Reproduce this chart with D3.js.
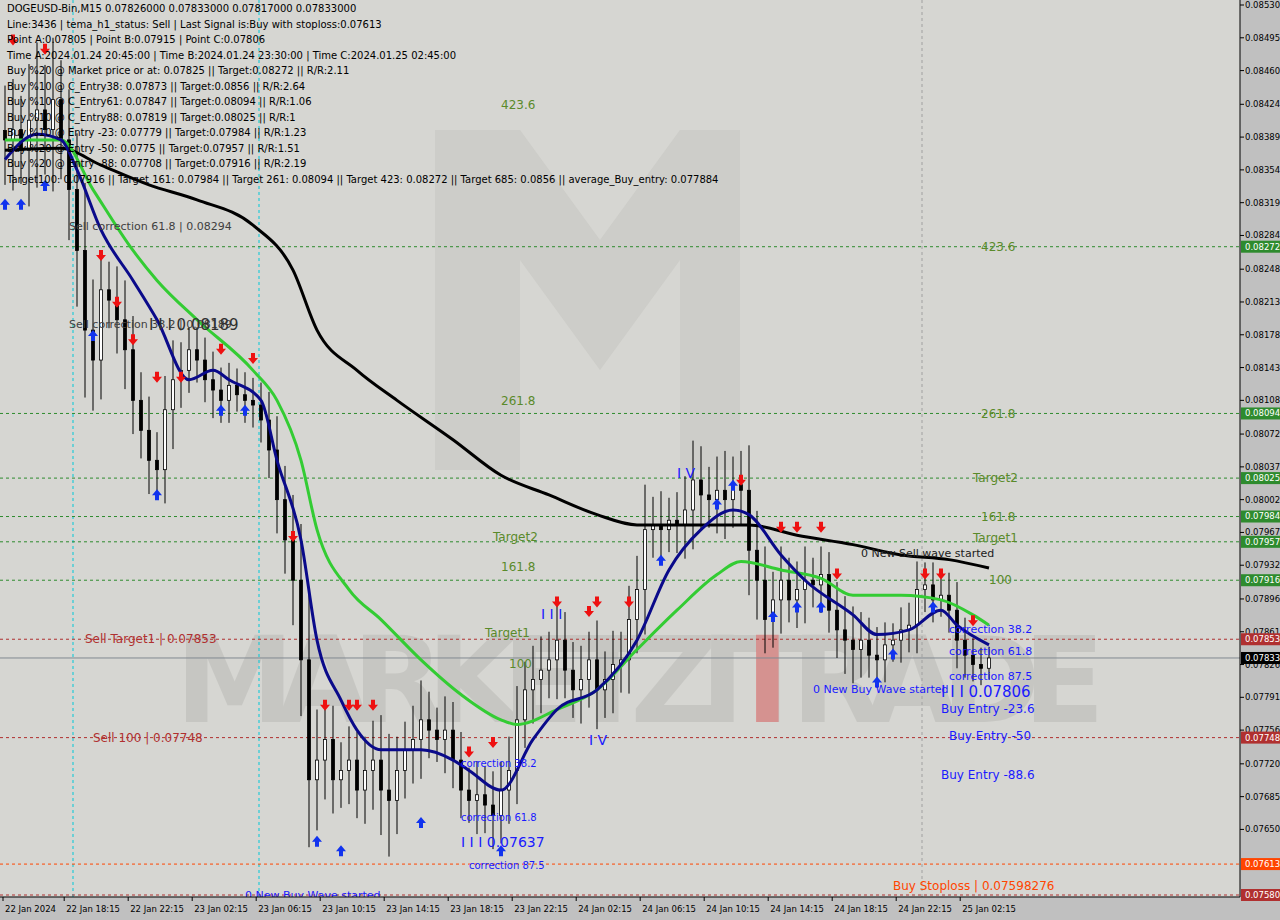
<!DOCTYPE html><html><head><meta charset="utf-8">
<script src="https://cdn.jsdelivr.net/npm/d3@7"></script>
<style>body{margin:0;background:#c0c0c0}svg{display:block;font-family:Tahoma,"DejaVu Sans",sans-serif}</style></head><body>
<svg id="c" width="1280" height="920"></svg>
<script>
const closes=[0.08386,0.08397,0.08375,0.08407,0.08418,0.08397,0.08429,0.08386,0.08333,0.08268,0.08183,0.08151,0.08226,0.08215,0.08194,0.08162,0.08108,0.08076,0.08044,0.08034,0.08098,0.08130,0.08140,0.08162,0.08151,0.08130,0.08119,0.08108,0.08124,0.08114,0.08108,0.08103,0.08087,0.08055,0.08002,0.07959,0.07916,0.07831,0.07703,0.07724,0.07746,0.07703,0.07713,0.07724,0.07692,0.07713,0.07724,0.07692,0.07681,0.07713,0.07735,0.07746,0.07767,0.07756,0.07746,0.07756,0.07724,0.07692,0.07681,0.07687,0.07676,0.07665,0.07692,0.07713,0.07767,0.07799,0.07810,0.07820,0.07831,0.07852,0.07820,0.07799,0.07810,0.07831,0.07799,0.07810,0.07826,0.07831,0.07874,0.07906,0.07970,0.07975,0.07970,0.07980,0.07975,0.07991,0.08023,0.08007,0.08002,0.08012,0.08002,0.08018,0.08012,0.07948,0.07916,0.07874,0.07895,0.07916,0.07895,0.07906,0.07916,0.07911,0.07922,0.07884,0.07863,0.07852,0.07842,0.07852,0.07836,0.07831,0.07847,0.07852,0.07863,0.07868,0.07906,0.07911,0.07895,0.07900,0.07884,0.07852,0.07836,0.07826,0.07822,0.07833];
const wicks=[0.0008,0.0009,0.0006,0.0010,0.0012,0.0008,0.0011,0.0007,0.0009,0.0010,0.0012,0.0009,0.0007,0.0005,0.0006,0.0007,0.0006,0.0005,0.0006,0.0005,0.0006,0.0007,0.0005,0.0004,0.0004,0.0004,0.0005,0.0004,0.0004,0.0003,0.0004,0.0004,0.0004,0.0005,0.0006,0.0006,0.0008,0.0010,0.0012,0.0009,0.0007,0.0006,0.0005,0.0006,0.0005,0.0006,0.0007,0.0008,0.0010,0.0006,0.0005,0.0006,0.0007,0.0005,0.0004,0.0006,0.0005,0.0005,0.0004,0.0006,0.0005,0.0006,0.0005,0.0006,0.0006,0.0005,0.0006,0.0006,0.0005,0.0007,0.0005,0.0005,0.0006,0.0005,0.0007,0.0005,0.0006,0.0005,0.0006,0.0006,0.0008,0.0005,0.0006,0.0004,0.0005,0.0006,0.0007,0.0006,0.0005,0.0006,0.0007,0.0005,0.0006,0.0008,0.0007,0.0006,0.0005,0.0006,0.0004,0.0005,0.0006,0.0004,0.0005,0.0004,0.0005,0.0006,0.0006,0.0005,0.0004,0.0005,0.0004,0.0003,0.0004,0.0004,0.0005,0.0004,0.0004,0.0003,0.0004,0.0005,0.0004,0.0003,0.0003,0.0002];
const maBlack=[[0,0.08375],[7,0.08377],[12,0.08359],[18,0.08338],[24,0.08322],[31,0.08295],[36,0.08247],[39,0.08183],[44,0.08140],[49,0.08108],[56,0.08066],[62,0.08028],[68,0.08007],[74,0.07986],[79,0.07975],[87,0.07975],[93,0.07975],[99,0.07964],[106,0.07954],[112,0.07943],[118,0.07938],[123,0.07929]];
const maGreen=[[0,0.08386],[7,0.08386],[11,0.08333],[16,0.08268],[19,0.08236],[24,0.08194],[31,0.08140],[34,0.08108],[37,0.08044],[39,0.07970],[43,0.07906],[47,0.07874],[52,0.07831],[57,0.07794],[62,0.07767],[64,0.07762],[69,0.07778],[74,0.07799],[79,0.07842],[84,0.07884],[89,0.07922],[92,0.07936],[97,0.07927],[102,0.07918],[106,0.07900],[112,0.07900],[117,0.07895],[121,0.07879],[123,0.07868]];
const maBlue=[[0,0.08365],[4,0.08392],[7,0.08386],[9,0.08354],[12,0.08290],[16,0.08236],[19,0.08194],[23,0.08130],[26,0.08140],[28,0.08130],[32,0.08108],[34,0.08044],[37,0.07959],[39,0.07852],[42,0.07788],[44,0.07756],[47,0.07735],[52,0.07735],[56,0.07724],[58,0.07713],[62,0.07692],[66,0.07746],[69,0.07778],[74,0.07799],[79,0.07852],[83,0.07927],[87,0.07970],[91,0.07991],[93,0.07986],[97,0.07943],[100,0.07916],[106,0.07879],[109,0.07858],[113,0.07863],[117,0.07884],[119,0.07868],[123,0.07847]];
const axisTicks=[0.08530,0.08495,0.08460,0.08424,0.08389,0.08354,0.08319,0.08284,0.08248,0.08213,0.08178,0.08143,0.08108,0.08072,0.08037,0.08002,0.07967,0.07932,0.07896,0.07861,0.07826,0.07791,0.07756,0.07720,0.07685,0.07650];
const levels=[[0.08272,"#2e8b2e"],[0.08094,"#2e8b2e"],[0.08025,"#2e8b2e"],[0.07984,"#2e8b2e"],[0.07957,"#2e8b2e"],[0.07916,"#2e8b2e"],[0.07853,"#b03030"],[0.07748,"#b03030"],[0.07613,"#ff4500"],[0.07580,"#b03030"]];
const timeLabels=["22 Jan 2024","22 Jan 18:15","22 Jan 22:15","23 Jan 02:15","23 Jan 06:15","23 Jan 10:15","23 Jan 14:15","23 Jan 18:15","23 Jan 22:15","24 Jan 02:15","24 Jan 06:15","24 Jan 10:15","24 Jan 14:15","24 Jan 18:15","24 Jan 22:15","25 Jan 02:15"];
const sellArrows=[[1,0.0849],[5,0.0848],[12,0.0826],[14,0.0821],[16,0.0817],[19,0.0813],[22,0.0813],[27,0.0816],[31,0.0815],[36,0.0796],[40,0.0778],[43,0.0778],[44,0.0778],[46,0.0778],[58,0.0773],[61,0.0774],[69,0.0789],[73,0.0788],[74,0.0789],[78,0.0789],[92,0.0802],[97,0.0797],[99,0.0797],[102,0.0797],[104,0.0792],[115,0.0792],[117,0.0792],[121,0.0787]];
const buyArrows=[[0,0.0832],[2,0.0832],[5,0.0834],[11,0.0818],[19,0.0801],[27,0.0810],[30,0.0810],[39,0.0764],[42,0.0763],[52,0.0766],[62,0.0763],[82,0.0794],[89,0.0800],[91,0.0802],[96,0.0788],[99,0.0789],[102,0.0789],[109,0.0781],[111,0.0784],[116,0.0789]];
const labels=[
 [8,0.08294,"Sell correction 61.8 | 0.08294","#404040",11],[8,0.08189,"Sell correction 38.2 | 0.08189","#404040",11],[18,0.08189,"I I I 0.08189","#303030",15],
 [62,0.08423,"423.6","#5a8a2a",12],[62,0.08108,"261.8","#5a8a2a",12],[61,0.07962,"Target2","#5a8a2a",12],[62,0.07930,"161.8","#5a8a2a",12],[60,0.07860,"Target1","#5a8a2a",12],[63,0.07827,"100","#5a8a2a",12],
 [10,0.07853,"Sell Target1 | 0.07853","#b03030",12],[11,0.07748,"Sell 100 | 0.07748","#b03030",12],
 [67,0.07880,"I I I","#1a1aff",14],[73,0.07745,"I V","#1a1aff",14],[84,0.08030,"I V","#1a1aff",14],[30,0.07580,"0 New Buy Wave started","#1a1aff",11],
 [57,0.07637,"I I I 0.07637","#1a1aff",14],[58,0.07612,"correction 87.5","#1a1aff",10],[57,0.07720,"correction 38.2","#1a1aff",10],[57,0.07663,"correction 61.8","#1a1aff",10],
 [107,0.07945,"0 New Sell wave started","#202020",11],[101,0.07800,"0 New Buy Wave started","#1a1aff",11],[121,0.07961,"Target1","#5a8a2a",12],[121,0.08025,"Target2","#5a8a2a",12],[122,0.07984,"161.8","#5a8a2a",12],[122,0.08094,"261.8","#5a8a2a",12],[122,0.08272,"423.6","#5a8a2a",12],[123,0.07916,"100","#5a8a2a",12],
 [118,0.07864,"correction 38.2","#1a1aff",11],[118,0.07840,"correction 61.8","#1a1aff",11],[118,0.07814,"correction 87.5","#1a1aff",11],[117,0.07797,"I I I 0.07806","#1a1aff",15],
 [117,0.07779,"Buy Entry -23.6","#1a1aff",12],[118,0.07750,"Buy Entry -50","#1a1aff",12],[117,0.07708,"Buy Entry -88.6","#1a1aff",12],[111,0.07590,"Buy Stoploss | 0.07598276","#ff4500",12]];
const header=["DOGEUSD-Bin,M15  0.07826000 0.07833000 0.07817000 0.07833000","Line:3436 | tema_h1_status: Sell | Last Signal is:Buy with stoploss:0.07613","Point A:0.07805 | Point B:0.07915 | Point C:0.07806","Time A:2024.01.24 20:45:00 | Time B:2024.01.24 23:30:00 | Time C:2024.01.25 02:45:00","Buy %20 @ Market price or at: 0.07825 || Target:0.08272 || R/R:2.11","Buy %10 @ C_Entry38: 0.07873 || Target:0.0856 || R/R:2.64","Buy %10 @ C_Entry61: 0.07847 || Target:0.08094 || R/R:1.06","Buy %10 @ C_Entry88: 0.07819 || Target:0.08025 || R/R:1","Buy %10 @ Entry -23: 0.07779 || Target:0.07984 || R/R:1.23","Buy %20 @ Entry -50: 0.0775 || Target:0.07957 || R/R:1.51","Buy %20 @ Entry -88: 0.07708 || Target:0.07916 || R/R:2.19","Target100: 0.07916 || Target 161: 0.07984 || Target 261: 0.08094 || Target 423: 0.08272 || Target 685: 0.0856 || average_Buy_entry: 0.077884"];

const svg=d3.select("#c");
const W=1240,H=897;
const x=d3.scaleLinear().domain([0,123]).range([5,989]);
const y=d3.scaleLinear().domain([0.0758,0.0853]).range([895,5]);
svg.append("rect").attr("width",W).attr("height",H).attr("fill","#d6d6d2");
const wm=svg.append("g").attr("opacity",0.5);
wm.append("path").attr("d","M435,470 L435,130 L520,130 L600,240 L680,130 L740,130 L740,470 L680,470 L680,260 L600,370 L520,260 L520,470 Z").attr("fill","#c4c4c0");
wm.append("text").attr("x",175).attr("y",722).attr("font-size",120).attr("font-weight","bold").attr("fill","#b8b8b4").attr("textLength",930).text("MARKETZITRADE");
svg.append("text").attr("x",745).attr("y",722).attr("font-size",120).attr("font-weight","bold").attr("fill","#e07070").attr("opacity",0.6).text("I");
[[73,"#00c8d8"],[259,"#00c8d8"],[922,"#a0a0a0"]].forEach(v=>svg.append("line").attr("x1",v[0]).attr("x2",v[0]).attr("y1",0).attr("y2",H).attr("stroke",v[1]).attr("stroke-dasharray","3,3"));
levels.forEach(l=>svg.append("line").attr("x1",0).attr("x2",W).attr("y1",y(l[0])).attr("y2",y(l[0])).attr("stroke",l[1]).attr("stroke-dasharray","3,3"));
svg.append("line").attr("x1",0).attr("x2",W).attr("y1",y(0.07833)).attr("y2",y(0.07833)).attr("stroke","#808890");
const cg=svg.append("g");
closes.forEach((c,i)=>{const o=i?closes[i-1]:c+0.0001;const hi=Math.max(o,c)+wicks[i]*0.6,lo=Math.min(o,c)-wicks[i]*0.6;
 cg.append("line").attr("x1",x(i)).attr("x2",x(i)).attr("y1",y(hi)).attr("y2",y(lo)).attr("stroke","#000");
 cg.append("rect").attr("x",x(i)-1.5).attr("width",3).attr("y",y(Math.max(o,c))).attr("height",Math.max(1,Math.abs(y(o)-y(c)))).attr("fill",c>=o?"#fff":"#000").attr("stroke","#000").attr("stroke-width",0.8);});
const ln=d3.line().x(d=>x(d[0])).y(d=>y(d[1])).curve(d3.curveMonotoneX);
svg.append("path").attr("d",ln(maBlack)).attr("fill","none").attr("stroke","#000").attr("stroke-width",3);
svg.append("path").attr("d",ln(maGreen)).attr("fill","none").attr("stroke","#33cc33").attr("stroke-width",3);
svg.append("path").attr("d",ln(maBlue)).attr("fill","none").attr("stroke","#0a0a8a").attr("stroke-width",3);
sellArrows.forEach(a=>{const X=x(a[0]),Y=y(a[1]);svg.append("path").attr("d",`M${X-2},${Y-8}h4v5h3l-5,6l-5,-6h3z`).attr("fill","#ee1111");});
buyArrows.forEach(a=>{const X=x(a[0]),Y=y(a[1]);svg.append("path").attr("d",`M${X-2},${Y+8}h4v-5h3l-5,-6l-5,6h3z`).attr("fill","#1133ee");});
labels.forEach(l=>svg.append("text").attr("x",x(l[0])).attr("y",y(l[1])).attr("dy","0.35em").attr("font-size",l[4]).attr("fill",l[3]).text(l[2]));
header.forEach((t,i)=>svg.append("text").attr("x",7).attr("y",12+i*15.5).attr("font-size",10).attr("fill","#000").text(t));
svg.append("rect").attr("x",W).attr("y",0).attr("width",40).attr("height",920).attr("fill","#c0c0c0");
svg.append("rect").attr("x",0).attr("y",H).attr("width",1280).attr("height",23).attr("fill","#c0c0c0");
svg.append("line").attr("x1",W).attr("x2",W).attr("y1",0).attr("y2",H).attr("stroke","#000");
svg.append("line").attr("x1",0).attr("x2",W).attr("y1",H).attr("y2",H).attr("stroke","#000");
axisTicks.forEach(t=>{svg.append("line").attr("x1",W).attr("x2",W+4).attr("y1",y(t)).attr("y2",y(t)).attr("stroke","#000");
 svg.append("text").attr("x",W+5).attr("y",y(t)).attr("dy","0.35em").attr("font-size",8.5).text(t.toFixed(5));});
levels.concat([[0.07833,"#000"]]).forEach(l=>{svg.append("rect").attr("x",W+1).attr("y",y(l[0])-6).attr("width",39).attr("height",12).attr("fill",l[1]);
 svg.append("text").attr("x",W+5).attr("y",y(l[0])).attr("dy","0.35em").attr("font-size",8.5).attr("fill","#fff").text(l[0].toFixed(5));});
timeLabels.forEach((t,i)=>{const X=i===0?3:x(7.4+8*(i-1));svg.append("line").attr("x1",X).attr("x2",X).attr("y1",H).attr("y2",H+4).attr("stroke","#000");
 svg.append("text").attr("x",X+2).attr("y",912).attr("font-size",8.5).text(t);});
</script></body></html>
